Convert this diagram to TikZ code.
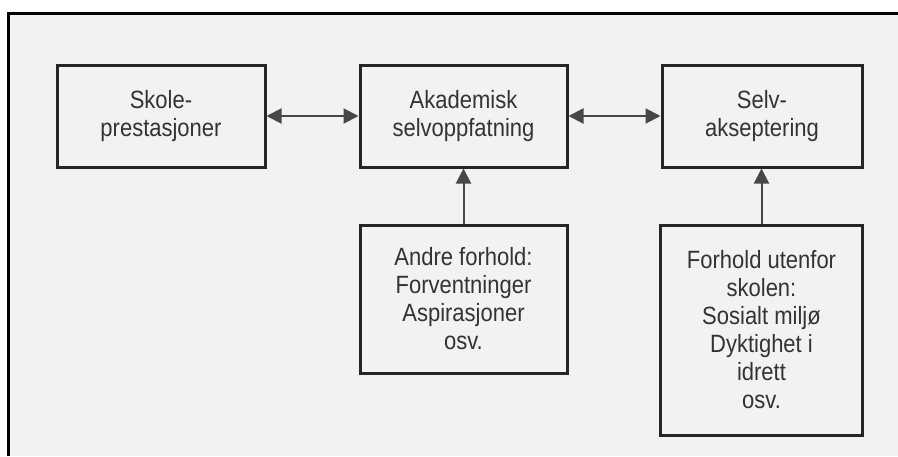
\documentclass[tikz,border=0pt]{standalone}
\usepackage{fontspec}
\setmainfont{Liberation Sans}[FakeStretch=0.88]
\usepackage{xcolor}
\usepackage{tikz}
\usetikzlibrary{arrows.meta,positioning}
\definecolor{paper}{HTML}{F2F2F2}
\definecolor{boxline}{HTML}{262626}
\definecolor{txt}{HTML}{333333}
\tikzset{
  boks/.style={draw=boxline,line width=3pt,fill=paper,align=center,inner sep=0pt,
    text=txt,font=\fontsize{25}{28}\selectfont},
  pil/.style={draw=boxline!85,line width=2pt,-{Triangle[length=15pt,width=15pt]}},
  dobbelpil/.style={draw=boxline!85,line width=2pt,{Triangle[length=15pt,width=15pt]}-{Triangle[length=15pt,width=15pt]}}
}

\begin{document}
\begin{tikzpicture}[x=1pt,y=-1pt]
        \useasboundingbox (0,0) rectangle (898,456);
        % Draw the frame
        \fill[white] (0,0) rectangle (898,456);
        \fill[paper] (8,13) rectangle (898,456);
        \draw[line width=3pt,black] (8,456) -- (8,13) -- (898,13);

        % Draw the upper boxes
        \node[boks,minimum width=208pt,minimum height=102pt] (skole) at (161,116) {Skole-\\prestasjoner};
        \node[boks,minimum width=207pt,minimum height=102pt] (akademisk) at (463.5,116) {Akademisk\\selvoppfatning};
        \node[boks,minimum width=200pt,minimum height=102pt] (selv) at (762,116) {Selv-\\akseptering};

        % Draw the lower boxes
        \node[boks,minimum width=207pt,minimum height=148pt] (andre) at (463.5,299) {Andre forhold:\\Forventninger\\Aspirasjoner\\osv.};
        \node[boks,minimum width=202pt,minimum height=210pt] (utenfor) at (761.5,330) {Forhold utenfor\\skolen:\\Sosialt miljø\\Dyktighet i\\idrett\\osv.};

        % Draw the arrows
        \draw[dobbelpil] (skole) -- (akademisk);
        \draw[dobbelpil] (akademisk) -- (selv);
        \draw[pil] (andre) -- (akademisk);
        \draw[pil] (utenfor.north) -- (utenfor.north |- selv.south);

    \end{tikzpicture}
\end{document}
